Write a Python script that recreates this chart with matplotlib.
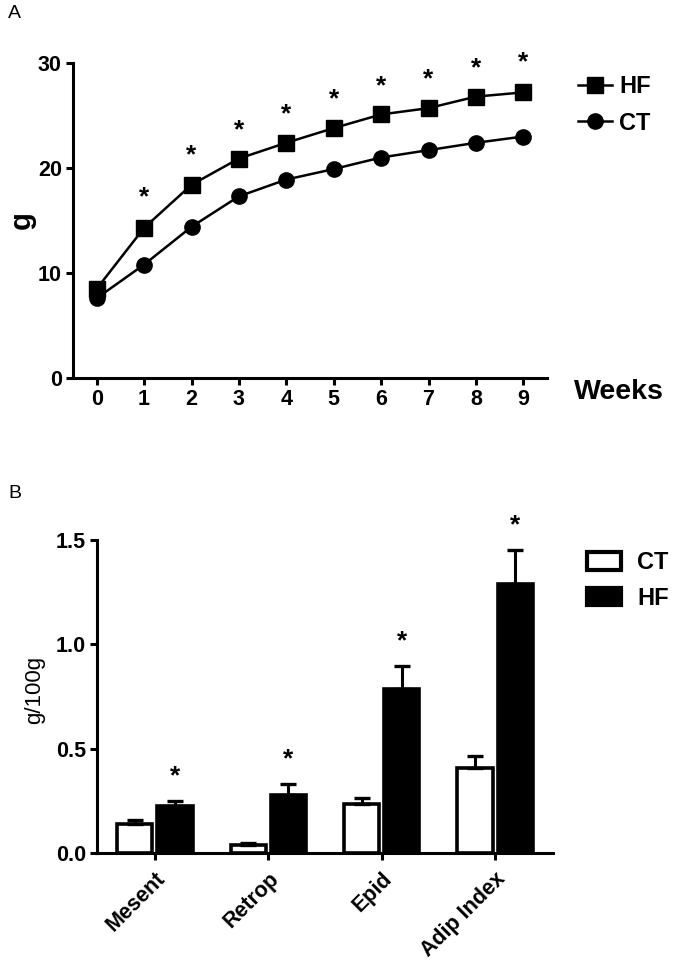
import matplotlib
matplotlib.use("Agg")
import matplotlib.pyplot as plt
from matplotlib.lines import Line2D
from matplotlib.patches import Patch
import numpy as np

plt.rcParams['font.family'] = ['Liberation Sans', 'DejaVu Sans']

# ---- Panel A data ----
weeks = [0, 1, 2, 3, 4, 5, 6, 7, 8, 9]
hf_weight = [8.5, 14.3, 18.4, 20.9, 22.4, 23.8, 25.1, 25.7, 26.8, 27.2]
hf_err = [0.4, 0.5, 0.4, 0.3, 0.3, 0.3, 0.3, 0.3, 0.3, 0.5]
ct_weight = [7.6, 10.8, 14.4, 17.3, 18.9, 19.9, 21.0, 21.7, 22.4, 23.0]
ct_err = [0.3, 0.3, 0.3, 0.3, 0.3, 0.3, 0.3, 0.3, 0.3, 0.3]
sig_a = [False, True, True, True, True, True, True, True, True, True]

# ---- Panel B data ----
depots = ["Mesent", "Retrop", "Epid", "Adip Index"]
ct_fat = [0.137, 0.040, 0.233, 0.408]
ct_fat_err = [0.020, 0.008, 0.032, 0.055]
hf_fat = [0.225, 0.280, 0.787, 1.290]
hf_fat_err = [0.022, 0.050, 0.108, 0.162]
sig_b = [True, True, True, True]

W, H = 677, 966
fig = plt.figure(figsize=(W / 100, H / 100), dpi=100)

def fx(px):
    return px / W

def fy(py):
    return 1 - py / H

LW_AX = 2.2
TICK_FS = 15.5
LEG_FS = 17

def style_axes(ax):
    for s in ['top', 'right']:
        ax.spines[s].set_visible(False)
    for s in ['left', 'bottom']:
        ax.spines[s].set_linewidth(LW_AX)
    ax.tick_params(axis='both', which='major', direction='out', length=5,
                   width=LW_AX, labelsize=TICK_FS, pad=3)
    for lab in ax.get_xticklabels() + ax.get_yticklabels():
        lab.set_fontweight('bold')

# ---------------- Panel A ----------------
axA = fig.add_axes([fx(73), fy(378), fx(547 - 73), (378 - 63) / H])
axA.errorbar(weeks, hf_weight, yerr=hf_err, color='black', lw=1.8,
             marker='s', markersize=11, capsize=4, elinewidth=1.5, capthick=1.5,
             label='HF', zorder=3)
axA.errorbar(weeks, ct_weight, yerr=ct_err, color='black', lw=1.8,
             marker='o', markersize=11, capsize=4, elinewidth=1.5, capthick=1.5,
             label='CT', zorder=3)
axA.set_xlim(-0.5, 9.5)
axA.set_ylim(0, 30)
axA.set_xticks(weeks)
axA.set_yticks([0, 10, 20, 30])
style_axes(axA)
axA.spines['left'].set_bounds(0, 30)
for w, v, e, s in zip(weeks, hf_weight, hf_err, sig_a):
    if s:
        axA.text(w, v + e + 2.4, '*', ha='center', va='center', fontsize=19,
                 fontweight='bold')
fig.text(fx(22), fy(220), 'g', fontsize=21, fontweight='bold',
         rotation=90, ha='center', va='center')
fig.text(fx(574), fy(392), 'Weeks', fontsize=20.5, fontweight='bold',
         ha='left', va='center')
fig.text(fx(8), fy(14), 'A', fontsize=14, ha='left', va='center')

fpx = LEG_FS * 100 / 72.0
handles_a = [Line2D([], [], color='black', lw=1.8, marker='s', markersize=11),
             Line2D([], [], color='black', lw=1.8, marker='o', markersize=11)]
fig.legend(handles_a, ['HF', 'CT'], loc='upper left',
           bbox_to_anchor=(fx(578), fy(87 - fpx / 2)), frameon=False,
           borderpad=0, borderaxespad=0,
           prop={'weight': 'bold', 'size': LEG_FS}, handlelength=34 / fpx,
           handletextpad=7 / fpx, labelspacing=(37 - fpx) / fpx)

# ---------------- Panel B ----------------
axB = fig.add_axes([fx(97), fy(853), fx(553 - 97), (853 - 540) / H])
x = np.arange(len(depots))
off = 0.178
bw = 0.31
axB.bar(x - off, ct_fat, bw, color='white', edgecolor='black', linewidth=2.6,
        yerr=[np.zeros(len(ct_fat_err)), ct_fat_err], capsize=6,
        error_kw=dict(elinewidth=2.2, capthick=2.4, ecolor='black'), zorder=2)
axB.bar(x + off, hf_fat, bw, color='black', edgecolor='black', linewidth=2.6,
        yerr=[np.zeros(len(hf_fat_err)), hf_fat_err], capsize=6,
        error_kw=dict(elinewidth=2.2, capthick=2.4, ecolor='black'), zorder=2)
axB.set_xlim(-0.51, 3.51)
axB.set_ylim(0, 1.5)
axB.set_yticks([0.0, 0.5, 1.0, 1.5])
axB.set_yticklabels(['0.0', '0.5', '1.0', '1.5'])
axB.set_xticks(x)
axB.set_xticklabels(depots, rotation=45, ha='right', rotation_mode='anchor')
style_axes(axB)
axB.tick_params(axis='x', pad=6)
axB.spines['left'].set_bounds(0, 1.5)
for i, (v, e, s) in enumerate(zip(hf_fat, hf_fat_err, sig_b)):
    if s:
        axB.text(i + off, v + e + 0.12, '*', ha='center', va='center', fontsize=19,
                 fontweight='bold')
fig.text(fx(35), fy(690), 'g/100g', fontsize=16, rotation=90,
         ha='center', va='center')
fig.text(fx(8), fy(494), 'B', fontsize=14, ha='left', va='center')

handles_b = [Patch(facecolor='white', edgecolor='black', linewidth=3),
             Patch(facecolor='black', edgecolor='black', linewidth=3)]
fig.legend(handles_b, ['CT', 'HF'], loc='upper left',
           bbox_to_anchor=(fx(587), fy(563 - fpx / 2)), frameon=False,
           borderpad=0, borderaxespad=0,
           prop={'weight': 'bold', 'size': LEG_FS}, handlelength=34 / fpx,
           handleheight=18 / fpx, handletextpad=16 / fpx,
           labelspacing=(36 - fpx) / fpx)

fig.savefig('out.png', dpi=100)
